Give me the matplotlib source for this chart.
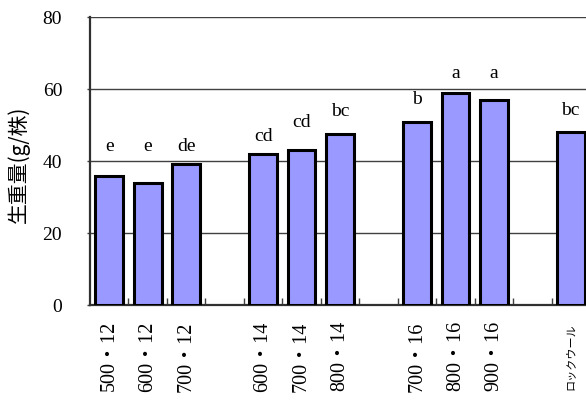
import numpy as np
import matplotlib.pyplot as plt
from matplotlib.ticker import FixedLocator

# fresh weight per plant by treatment
labels = ['500・12', '600・12', '700・12', '600・14', '700・14', '800・14',
          '700・16', '800・16', '900・16', 'ロックウール']
positions = [0, 1, 2, 4, 5, 6, 8, 9, 10, 12]
values = [35.8, 34.0, 39.3, 41.9, 43.1, 47.5, 50.7, 58.8, 56.9, 48.1]
# significance letters and the height they sit at
letters = ['e', 'e', 'de', 'cd', 'cd', 'bc', 'b', 'a', 'a', 'bc']
letter_y = [43.9, 43.9, 43.9, 46.8, 50.6, 53.7, 57.1, 64.4, 64.4, 53.9]

serif = ['Liberation Serif', 'Noto Sans CJK JP']

fig = plt.figure(figsize=(5.86, 4.03), dpi=100)
ax = fig.add_axes([90 / 586, 98 / 403, 500 / 586, 288 / 403])

ax.set_axisbelow(True)
ax.yaxis.grid(True, color='#404040', linewidth=1.0)
ax.bar(positions, values, width=0.72, color='#9999ff', edgecolor='black',
       linewidth=2.2, zorder=3)

for x, y, s in zip(positions, letter_y, letters):
    ax.text(x, y, s, ha='center', va='center', fontsize=14, family=serif)

ax.set_xlim(-0.5, 12.5)
ax.set_ylim(0, 80)
ax.set_yticks([0, 20, 40, 60, 80])
ax.tick_params(axis='y', direction='out', length=2, width=1, color='#404040',
               labelsize=14, pad=18)
for t in ax.get_yticklabels():
    t.set_family(serif)

ax.set_xticks(positions)
ax.set_xticklabels([])
ax.xaxis.set_minor_locator(FixedLocator(np.arange(0.5, 12.5, 1.0)))
ax.tick_params(axis='x', which='major', length=0)
ax.tick_params(axis='x', which='minor', direction='in', length=5, width=1,
               color='#404040')

for x, s in zip(positions, labels):
    if s == 'ロックウール':
        ax.text(x, -5.0, s, rotation=90, ha='center', va='top', fontsize=8,
                family=['Noto Sans CJK JP'])
    else:
        ax.text(x, -4.5, s, rotation=90, ha='center', va='top', fontsize=14.5,
                family=serif)

for side in ['top', 'right']:
    ax.spines[side].set_visible(False)
for side in ['left', 'bottom']:
    ax.spines[side].set_linewidth(1.6)
    ax.spines[side].set_color('#303030')

fig.text(19 / 586, 1 - 164 / 403, '生重量(g/株)', rotation=90, ha='center',
         va='center', fontsize=15, family=['Noto Sans CJK JP'])

fig.savefig('out.png', dpi=100)
